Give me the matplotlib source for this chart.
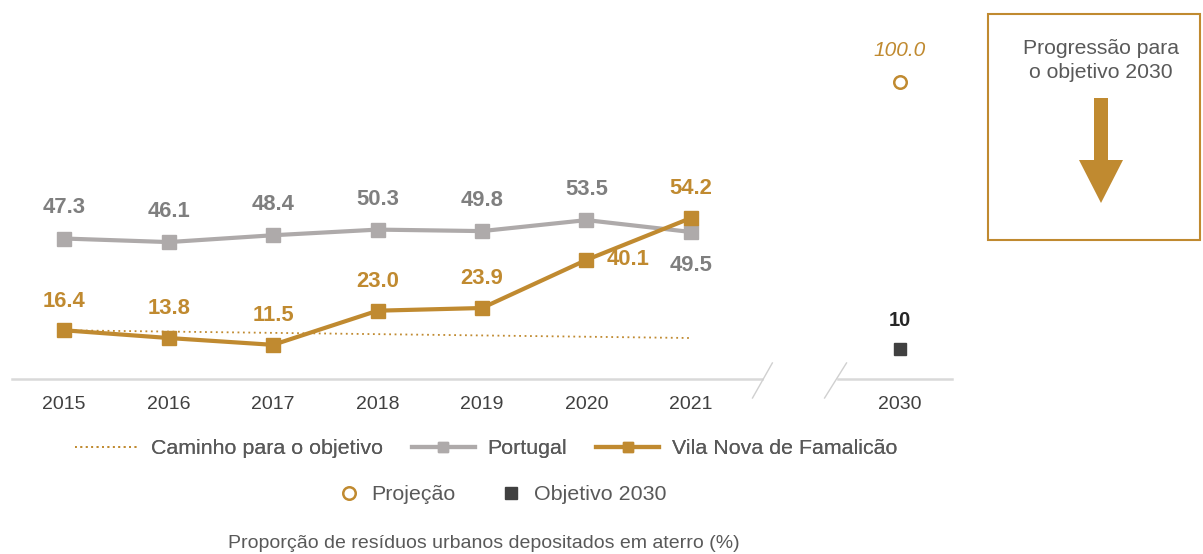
import numpy as np
import matplotlib
matplotlib.use("Agg")
import matplotlib.pyplot as plt
from matplotlib.lines import Line2D
from matplotlib.patches import Rectangle, FancyArrow

plt.rcParams['font.family'] = ['Liberation Sans', 'DejaVu Sans']

# data
years = ['2015', '2016', '2017', '2018', '2019', '2020', '2021']
portugal = [47.3, 46.1, 48.4, 50.3, 49.8, 53.5, 49.5]
famalicao = [16.4, 13.8, 11.5, 23.0, 23.9, 40.1, 54.2]
path_years = ['2015', '2021']
path_vals = [16.4, 13.8]
proj_2030 = 100.0
target_2030 = 10

GOLD = '#C08A30'
GREY = '#AEAAAA'
GREY_TXT = '#7F7F7F'
DARK = '#404040'
TXT = '#595959'

fig = plt.figure(figsize=(12.03, 5.54), dpi=100)
W, H = 1203, 554
ax = fig.add_axes([12 / W, (H - 379) / H, 940 / W, 326.7 / H])
ax.set_xlim(-0.5, 8.5)
ax.set_ylim(0, 110)

x = np.arange(len(years))
x2030 = 8
xp = [years.index(y) for y in path_years]

ax.plot(xp, path_vals, color=GOLD, lw=1.3, ls=(0, (1, 2)), zorder=2)
ax.plot(x, portugal, color=GREY, lw=3, marker='s', ms=9.5, zorder=3)
ax.plot(x, famalicao, color=GOLD, lw=3, marker='s', ms=10, zorder=4)
ax.plot([x2030], [proj_2030], ls='none', marker='o', ms=9, mfc='white', mec=GOLD, mew=1.8)
ax.plot([x2030], [target_2030], ls='none', marker='s', ms=9, color=DARK)

# data labels
for i, v in enumerate(portugal):
    dy = -24 if i == 6 else 22
    ax.annotate(f'{v:.1f}', (i, v), xytext=(0, dy), textcoords='offset points',
                ha='center', va='center', fontsize=15.8, fontweight='bold', color=GREY_TXT)
for i, v in enumerate(famalicao):
    if i == 5:
        ax.annotate(f'{v:.1f}', (i, v), xytext=(30, 0), textcoords='offset points',
                    ha='center', va='center', fontsize=15.8, fontweight='bold', color=GOLD)
    else:
        ax.annotate(f'{v:.1f}', (i, v), xytext=(0, 21), textcoords='offset points',
                    ha='center', va='center', fontsize=15.8, fontweight='bold', color=GOLD)
ax.annotate(f'{proj_2030:.1f}', (x2030, proj_2030), xytext=(0, 23), textcoords='offset points',
            ha='center', va='center', fontsize=15, style='italic', color=GOLD)
ax.annotate(f'{target_2030}', (x2030, target_2030), xytext=(0, 21), textcoords='offset points',
            ha='center', va='center', fontsize=14.5, fontweight='bold', color='#262626')

# axis with break
for s in ax.spines.values():
    s.set_visible(False)
ax.plot([-0.5, 6.68], [0, 0], color='#D9D9D9', lw=1.8, clip_on=False, zorder=1)
ax.plot([7.41, 8.5], [0, 0], color='#D9D9D9', lw=1.8, clip_on=False, zorder=1)
ax.plot([6.59, 6.78], [-6.4, 5.4], color='#D0D0D0', lw=1, clip_on=False)
ax.plot([7.28, 7.49], [-6.4, 5.4], color='#D0D0D0', lw=1, clip_on=False)

ax.set_xticks(list(x) + [x2030])
ax.set_xticklabels(years + ['2030'])
ax.set_yticks([])
ax.tick_params(axis='x', length=0, pad=12, labelsize=14, labelcolor=DARK)

# legends
h1 = [Line2D([], [], color=GOLD, lw=1.3, ls=(0, (1, 2))),
      Line2D([], [], color=GREY, lw=3, marker='s', ms=7),
      Line2D([], [], color=GOLD, lw=3, marker='s', ms=7)]
leg1 = fig.legend(h1, ['Caminho para o objetivo', 'Portugal', 'Vila Nova de Famalicão'],
                  loc='center', bbox_to_anchor=(486 / W, 1 - 449 / H), ncol=3, frameon=False,
                  fontsize=15.4, handlelength=2.95, handletextpad=0.6, columnspacing=1.35,
                  labelcolor=TXT)
h2 = [Line2D([], [], ls='none', marker='o', ms=9, mfc='white', mec=GOLD, mew=1.8),
      Line2D([], [], ls='none', marker='s', ms=9, color=DARK)]
leg2 = fig.legend(h2, ['Projeção', 'Objetivo 2030'], loc='center',
                  bbox_to_anchor=(502 / W, 1 - 495 / H), ncol=2, frameon=False,
                  fontsize=15.4, handlelength=1, handletextpad=0.57, columnspacing=2.07,
                  labelcolor=TXT)
fig.add_artist(leg1)

fig.text(484 / W, 1 - 543 / H, 'Proporção de resíduos urbanos depositados em aterro (%)',
         ha='center', va='center', fontsize=14, color=TXT)

# side box
fig.patches.append(Rectangle((988 / W, 1 - 240 / H), 212 / W, 226 / H, transform=fig.transFigure,
                             fill=False, edgecolor=GOLD, lw=1.5))
fig.text(1101 / W, 1 - 48 / H, 'Progressão para', ha='center', va='center',
         fontsize=15.2, color=TXT)
fig.text(1101 / W, 1 - 73 / H, 'o objetivo 2030', ha='center', va='center',
         fontsize=15.2, color=TXT)
fig.patches.append(FancyArrow(1101 / W, 1 - 98 / H, 0, -105 / H, width=14 / W,
                              head_width=44 / W, head_length=43 / H, length_includes_head=True,
                              transform=fig.transFigure, color=GOLD, lw=0))

fig.savefig('out.png', dpi=100)
